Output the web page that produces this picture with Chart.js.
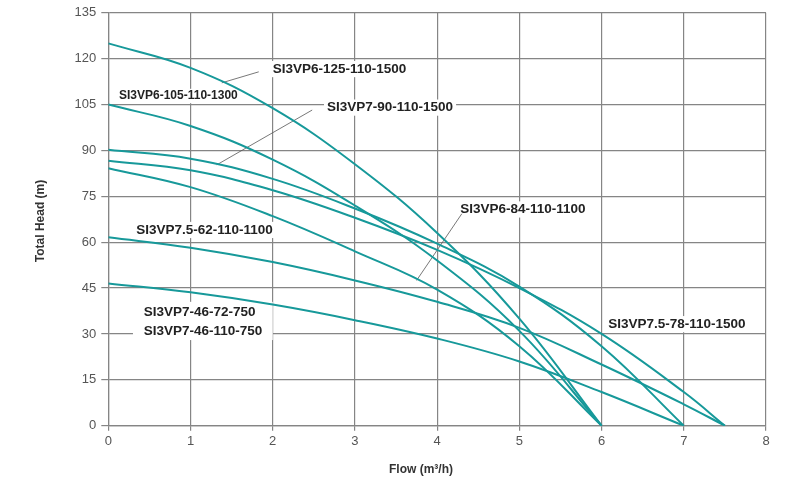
<!DOCTYPE html>
<html>
<head>
<meta charset="utf-8">
<title>Pump curves</title>
<script src="https://cdn.jsdelivr.net/npm/chart.js@4/dist/chart.umd.min.js"></script>
<style>
  html, body { margin: 0; padding: 0; background: #fff; }
  #pumpChart { display: block; }
</style>
</head>
<body>
<canvas id="pumpChart" width="800" height="477"></canvas>
<script>
// flow (m3/h) sample points, one list per shut-off flow
var flowTo6 = [0, 1, 2, 3, 4, 5, 6];
var flowTo7 = [0, 1, 2, 3, 4, 5, 6, 7];
var flowTo75 = [0, 1, 2, 3, 4, 5, 6, 7, 7.5];

// total head (m)
var head6_125 = [125, 117, 103.8, 85.5, 63, 35, 0];
var head6_105 = [105, 98, 87, 72, 54, 31, 0];
var head6_84 = [84.2, 78, 68.5, 57, 44.5, 26, 0];
var head7_90 = [90.2, 87.3, 80.7, 71, 59.5, 45.5, 26, 0];
var head7_46 = [46.5, 43.6, 39.6, 34.5, 28.5, 21, 11, 0];
var head75_78 = [86.6, 83.5, 77, 68, 57.5, 45, 30, 11, 0];
var head75_62 = [61.6, 58.2, 53.5, 47.5, 40.5, 32, 20, 7, 0];

var flowTicks = [0, 1, 2, 3, 4, 5, 6, 7, 8];
var headTicks = [0, 15, 30, 45, 60, 75, 90, 105, 120, 135];

var curveColor = '#17999a';
var gridColor = '#858585';
var fontFamily = '"Liberation Sans", Arial, sans-serif';

// model labels, placed in data units (left edge, vertical centre)
var modelLabels = [
  { text: 'SI3VP6-125-110-1500', x: 2.0, y: 116.6, size: 13.5 },
  { text: 'SI3VP6-105-110-1300', x: 0.13, y: 107.8, size: 12 },
  { text: 'SI3VP7-90-110-1500', x: 2.66, y: 104.0, size: 13.5 },
  { text: 'SI3VP6-84-110-1100', x: 4.28, y: 70.7, size: 13.5 },
  { text: 'SI3VP7.5-78-110-1500', x: 6.08, y: 33.2, size: 13.5 },
  { text: 'SI3VP7.5-62-110-1100', x: 0.34, y: 64.0, size: 13.5 },
  { text: 'SI3VP7-46-72-750', x: 0.43, y: 37.2, size: 13.5 },
  { text: 'SI3VP7-46-110-750', x: 0.43, y: 30.9, size: 13.5 }
];
var leaderLines = [
  { x1: 1.83, y1: 115.7, x2: 1.38, y2: 112.1 },
  { x1: 2.48, y1: 103.2, x2: 1.32, y2: 85.3 },
  { x1: 4.30, y1: 69.3, x2: 3.75, y2: 47.5 }
];

function toPoints(flows, heads) {
  return flows.map(function(f, i) { return { x: f, y: heads[i] }; });
}

function curve(flows, heads) {
  return {
    data: toPoints(flows, heads),
    borderColor: curveColor,
    borderWidth: 2,
    pointRadius: 0,
    fill: false,
    tension: 0.4
  };
}

var labelPlugin = {
  id: 'labelPlugin',
  beforeDatasetsDraw: function(chart) {
    var ctx = chart.ctx;
    var xs = chart.scales.x, ys = chart.scales.y;
    ctx.save();
    modelLabels.forEach(function(l) {
      ctx.font = 'bold ' + l.size + 'px ' + fontFamily;
      var w = ctx.measureText(l.text).width;
      var px = xs.getPixelForValue(l.x), py = ys.getPixelForValue(l.y);
      ctx.fillStyle = '#fff';
      ctx.fillRect(px - 3, py - l.size * 0.6, w + 6, l.size * 1.2);
    });
    // wider white box behind the two 46 m labels
    var bx = xs.getPixelForValue(0.3), by = ys.getPixelForValue(40.5);
    ctx.fillRect(bx, by, xs.getPixelForValue(2.0) - bx, ys.getPixelForValue(28) - by);

    ctx.strokeStyle = '#555';
    ctx.lineWidth = 0.8;
    leaderLines.forEach(function(s) {
      ctx.beginPath();
      ctx.moveTo(xs.getPixelForValue(s.x1), ys.getPixelForValue(s.y1));
      ctx.lineTo(xs.getPixelForValue(s.x2), ys.getPixelForValue(s.y2));
      ctx.stroke();
    });

    ctx.fillStyle = '#222';
    ctx.textBaseline = 'middle';
    ctx.textAlign = 'left';
    modelLabels.forEach(function(l) {
      ctx.font = 'bold ' + l.size + 'px ' + fontFamily;
      ctx.fillText(l.text, xs.getPixelForValue(l.x), ys.getPixelForValue(l.y));
    });

    // axis titles
    ctx.fillStyle = '#333';
    ctx.textAlign = 'center';
    ctx.font = 'bold 12px ' + fontFamily;
    ctx.fillText('Flow (m\u00b3/h)', 421, 470);
    ctx.translate(41, 221);
    ctx.rotate(-Math.PI / 2);
    ctx.fillText('Total Head (m)', 0, 0);
    ctx.restore();
  }
};

var ctx = document.getElementById('pumpChart').getContext('2d');
var pumpChart = new Chart(ctx, {
  type: 'line',
  data: {
    datasets: [
      curve(flowTo6, head6_125),
      curve(flowTo6, head6_105),
      curve(flowTo7, head7_90),
      curve(flowTo75, head75_78),
      curve(flowTo6, head6_84),
      curve(flowTo75, head75_62),
      curve(flowTo7, head7_46)
    ]
  },
  options: {
    responsive: false,
    animation: false,
    layout: { padding: { top: 12.7, right: 34, left: 0, bottom: 0 } },
    plugins: { legend: { display: false }, tooltip: { enabled: false } },
    scales: {
      x: {
        type: 'linear',
        min: 0,
        max: 8,
        afterBuildTicks: function(axis) { axis.ticks = flowTicks.map(function(v) { return { value: v }; }); },
        afterFit: function(axis) { axis.height = 51.3; },
        grid: { color: gridColor, lineWidth: 1.2, tickLength: 5 },
        border: { color: gridColor, width: 1.2 },
        ticks: { color: '#555', padding: 3, font: { family: fontFamily, size: 13 } }
      },
      y: {
        min: 0,
        max: 135,
        afterBuildTicks: function(axis) { axis.ticks = headTicks.map(function(v) { return { value: v }; }); },
        afterFit: function(axis) { axis.width = 108.3; },
        grid: { color: gridColor, lineWidth: 1.2, tickLength: 7 },
        border: { color: gridColor, width: 1.2 },
        ticks: { color: '#555', padding: 5, font: { family: fontFamily, size: 13 } }
      }
    }
  },
  plugins: [labelPlugin]
});
</script>
</body>
</html>
